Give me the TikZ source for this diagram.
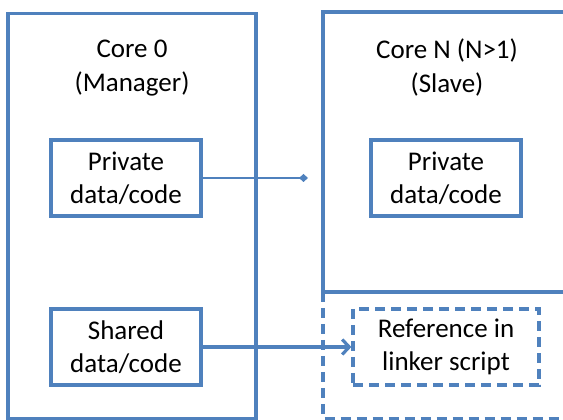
\documentclass[tikz,border=0pt]{standalone}
\usepackage{fontspec}
\setmainfont{Carlito}
\usetikzlibrary{arrows.meta}
\definecolor{accblue}{RGB}{79,129,189}
\begin{document}
\begin{tikzpicture}[x=1pt,y=1pt,
  frame/.style={draw=accblue,line width=3.2pt},
  dashline/.style={dash pattern=on 10pt off 6pt},
  inbox/.style={draw=accblue,line width=3.2pt,minimum width=150pt,minimum height=76pt,inner sep=0pt,align=center,font=\fontsize{27}{33}\selectfont},
  dbox/.style={inbox,dashline,minimum width=186pt},
  title/.style={align=center,font=\fontsize{27}{34}\selectfont,inner sep=0pt}]
\useasboundingbox (0,0) rectangle (563,420);
\clip (0,0) rectangle (563,420);
% outer frames
\draw[frame,dashline] (323,128) -- (323,1.5) -- (575,1.5);
\draw[frame] (8,1.5) rectangle (256,406.5);
\draw[frame] (575,408) -- (323,408) -- (323,128) -- (575,128);
% titles
\node[title] (t0) at (132,352) {Core 0\\(Manager)};
\node[title] (tn) at (447,352) {Core N (N>1)\\(Slave)};
% inner boxes
\node[inbox] (p0) at (126,242) {Private\\data/code};
\node[inbox] (s0) at (126,73) {Shared\\data/code};
\node[inbox] (pn) at (446,242) {Private\\data/code};
\node[dbox] (rn) at (446,73) {Reference in\\linker script};
\coordinate (dend) at (308,242);
% connectors
\draw[accblue,line width=1.5pt,-{Diamond[length=9pt,width=8pt]}] (p0.east) -- (dend);
\draw[accblue,line width=3.2pt,-{Straight Barb[length=7pt,width=15pt]}] (s0.east) -- (rn.west);
\end{tikzpicture}
\end{document}
